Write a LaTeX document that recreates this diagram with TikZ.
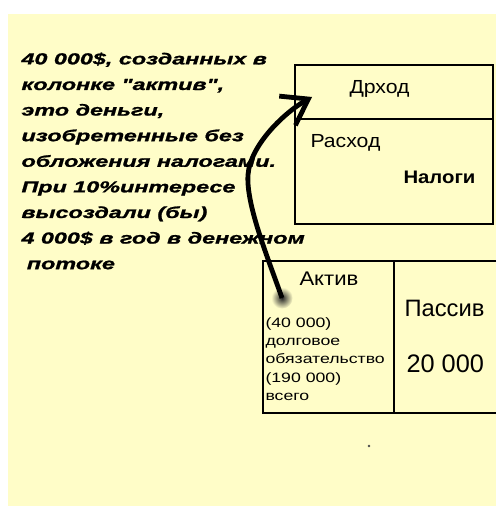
\documentclass[tikz,border=0pt]{standalone}
\usepackage{fontspec}
\setmainfont{Liberation Sans}
\newfontfamily\notefont[FakeStretch=1.46,FakeBold=1.2]{Liberation Sans}
\newfontfamily\widefont[FakeStretch=1.12]{Liberation Sans}
\newfontfamily\smallfont[FakeStretch=1.3]{Liberation Sans}
\usetikzlibrary{arrows.meta}
\definecolor{notebg}{RGB}{255,253,200}
\tikzset{every picture/.style={line width=0.75pt}}
\tikzset{
  boxline/.style={draw=black,line width=1.4pt},
  lbl/.style={anchor=base west,inner sep=0pt},
}

\begin{document}
\begin{tikzpicture}[x=0.75pt,y=0.75pt,yscale=-1,xscale=1]
%set diagram size 496 x 506
\useasboundingbox (0,0) rectangle (496,506);
\fill[white] (0,0) rectangle (496,506);
\fill[notebg] (8,14) rectangle (496,506);

%Shape: Rectangle (income / expense)
\draw[boxline] (295,65) rectangle (493,224);
\draw[boxline] (295,119) -- (493,119);
%Shape: table (asset / liability)
\draw[boxline] (496,261) -- (263,261) -- (263,413) -- (496,413);
\draw[boxline] (394,261) -- (394,413);

% Text Node
\draw (21,52) node [anchor=north west,inner sep=0pt,align=left,font={\notefont\bfseries\itshape\fontsize{12}{19.2}\selectfont}] (note) {40 000\$, созданных в\\колонке "актив",\\это деньги,\\изобретенные без\\обложения налогами.\\При 10\%интересе\\высоздали (бы)\\4 000\$ в год в денежном\\\hspace{4pt}потоке};
% Text Node
\draw (349,94) node [lbl,font=\widefont\fontsize{14.2}{17}\selectfont] (dohod) {Дрход};
% Text Node
\draw (310,147) node [lbl,font=\widefont\fontsize{14.2}{17}\selectfont] (rashod) {Расход};
% Text Node
\draw (403,183) node [lbl,font=\widefont\bfseries\fontsize{13.6}{16}\selectfont] (nalogi) {Налоги};
% Text Node
\draw (299,285) node [lbl,font=\widefont\fontsize{14.8}{17}\selectfont] (aktiv) {Актив};
% Text Node
\draw (404,316) node [lbl,font=\fontsize{17.8}{20}\selectfont] (passiv) {Пассив};
% Text Node
\draw (406,372) node [lbl,font=\fontsize{19}{22}\selectfont] (sum) {20 000};
% Text Node
\draw (265,317) node [anchor=north west,inner sep=0pt,align=left,font={\smallfont\fontsize{10.2}{13.7}\selectfont}] (dolg) {(40 000)\\долговое\\обязательство\\(190 000)\\всего};

%Blob at the start of the arrow
\node[circle,minimum size=16pt,inner sep=0pt,inner color=black!85,outer color=notebg] (src) at (282,298) {};
\coordinate (tip) at (312,97);
%Curve Lines
\draw[line width=3.6pt,-{Straight Barb[length=18pt,width=25pt,line width=3.6pt]}] (src.center) .. controls (268,258) and (246,205) .. (248,175) .. controls (250,145) and (285,112) .. (tip);

%small dot
\fill[black!70] (369,446) circle (1pt);
\end{tikzpicture}
\end{document}
